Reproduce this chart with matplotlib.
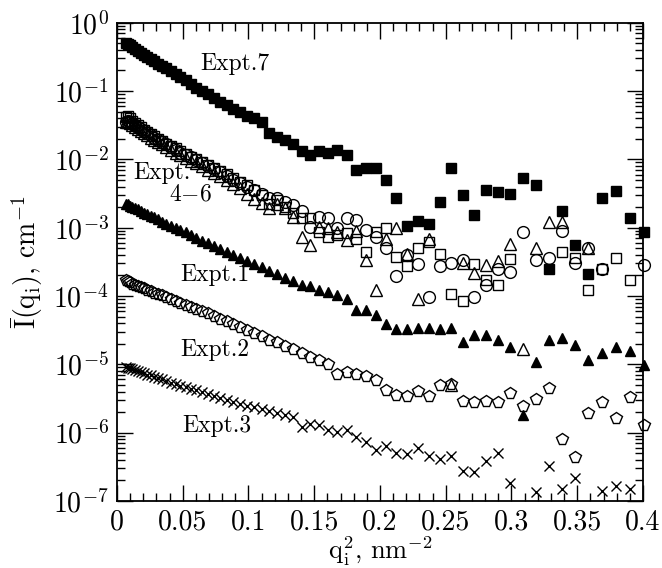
import numpy as np
import matplotlib
matplotlib.use('Agg')
import matplotlib.pyplot as plt
from matplotlib.ticker import LogLocator, MultipleLocator, NullFormatter

plt.rcParams['font.family'] = 'cmr10'
plt.rcParams['mathtext.fontset'] = 'cm'
plt.rcParams['axes.formatter.use_mathtext'] = True

nan = np.nan

# q_i^2 grid, nm^-2
q2 = [0.0067, 0.0082, 0.0099, 0.0117, 0.0136, 0.0157, 0.0179, 0.0203, 0.0228, 0.0255,
      0.0283, 0.0313, 0.0344, 0.0376, 0.0411, 0.0446, 0.0483, 0.0522, 0.0562, 0.0604,
      0.0647, 0.0691, 0.0737, 0.0785, 0.0834, 0.0884, 0.0936, 0.0990, 0.1044, 0.1101,
      0.1159, 0.1218, 0.1279, 0.1341, 0.1405, 0.1470, 0.1537, 0.1605, 0.1675, 0.1746,
      0.1819, 0.1893, 0.1969, 0.2046, 0.2125, 0.2205, 0.2286, 0.2369, 0.2454, 0.2540,
      0.2628, 0.2717, 0.2807, 0.2899, 0.2992, 0.3087, 0.3184, 0.3282, 0.3381, 0.3482,
      0.3584, 0.3688, 0.3794, 0.3900, 0.4009]

# log10 of I(q_i), cm^-1
expt7 = [-0.29, -0.31, -0.33, -0.35, -0.38, -0.41, -0.44, -0.47, -0.50, -0.53,
         -0.56, -0.60, -0.63, -0.67, -0.71, -0.75, -0.79, -0.84, -0.90, -0.95,
         -1.00, -1.05, -1.10, -1.16, -1.21, -1.26, -1.31, -1.36, -1.40, -1.45,
         -1.61, -1.67, -1.72, -1.78, -1.88, -1.94, -1.88, -1.91, -1.87, -1.94,
         -2.16, -2.13, -2.13, -2.30, -2.56, -2.97, -2.90, -2.95, -2.62, -2.13,
         -2.52, -2.82, -2.45, -2.48, -2.51, -2.28, -2.38, -3.61, -2.75, -3.25,
         -3.68, -2.56, -2.47, -2.86, -3.06]

expt4_6_sq = [-1.38, -1.36, -1.40, -1.44, -1.47, -1.50, -1.53, -1.57, -1.60, -1.63,
              -1.66, -1.70, -1.73, -1.77, -1.80, -1.84, -1.88, -1.92, -1.96, -2.00,
              -2.04, -2.08, -2.12, -2.17, -2.22, -2.27, -2.33, -2.38, -2.45, -2.52,
              -2.66, -2.60, -2.70, -2.78, -2.86, -2.86, -3.06, -3.13, -3.11, -3.08,
              -3.16, -3.35, -3.06, -3.00, -3.43, -3.56, -3.29, -3.21, -3.39, -3.97,
              -4.08, -3.53, -3.77, -3.84, -3.46, nan, nan, nan, -3.35, -3.45,
              -3.91, -3.61, -3.45, -3.77, nan]

expt4_6_ci = [-1.45, -1.44, -1.46, -1.48, -1.50, -1.53, -1.56, -1.59, -1.62, -1.65,
              -1.68, -1.72, -1.75, -1.78, -1.82, -1.86, -1.90, -1.93, -1.97, -2.01,
              -2.05, -2.09, -2.14, -2.19, -2.24, -2.30, -2.35, -2.40, -2.45, -2.50,
              -2.57, -2.57, -2.62, -2.67, -2.76, -2.99, -2.84, -2.86, -3.01, -2.86,
              -2.89, -3.04, -3.14, -3.30, -3.70, -3.40, -3.53, -4.01, -3.56, -3.52,
              -3.48, -4.01, -3.84, -3.61, -3.65, -3.07, -3.48, -3.44, -3.05, -3.52,
              -3.30, -3.61, nan, nan, -3.55]

expt4_6_tr = [-1.46, -1.45, -1.47, -1.50, -1.52, -1.55, -1.58, -1.61, -1.64, -1.68,
              -1.71, -1.74, -1.78, -1.82, -1.86, -1.90, -1.94, -1.98, -2.02, -2.06,
              -2.10, -2.15, -2.20, -2.25, -2.30, -2.36, -2.42, -2.50, -2.58, -2.64,
              -2.71, -2.66, -2.71, -2.84, -3.13, -3.25, -2.99, -3.01, -3.06, -3.18,
              -3.05, -3.47, -3.91, -3.16, -3.00, -3.38, -4.05, -3.16, nan, -5.30,
              -3.52, -3.67, -3.55, -3.49, -3.24, -4.77, -3.30, -2.92, -2.92, nan,
              -3.30, nan, nan, nan, nan]

expt1 = [-2.65, -2.66, -2.68, -2.70, -2.71, -2.73, -2.75, -2.78, -2.80, -2.83,
         -2.85, -2.88, -2.91, -2.94, -2.97, -3.00, -3.04, -3.07, -3.11, -3.15,
         -3.19, -3.23, -3.27, -3.31, -3.35, -3.40, -3.44, -3.49, -3.53, -3.58,
         -3.63, -3.68, -3.73, -3.78, -3.84, -3.86, -3.91, -3.94, -3.99, -4.05,
         -4.20, -4.20, -4.28, -4.41, -4.48, -4.48, -4.47, -4.47, -4.48, -4.47,
         -4.68, -4.57, -4.57, -4.65, -4.74, -5.74, -4.96, -4.64, -4.62, -4.72,
         -4.93, -4.83, -4.74, -4.80, -5.01]

expt2 = [-3.77, -3.78, -3.80, -3.82, -3.84, -3.86, -3.87, -3.89, -3.91, -3.93,
         -3.95, -3.97, -3.99, -4.02, -4.05, -4.07, -4.10, -4.13, -4.16, -4.19,
         -4.22, -4.25, -4.29, -4.33, -4.37, -4.41, -4.45, -4.50, -4.54, -4.58,
         -4.64, -4.68, -4.73, -4.77, -4.84, -4.89, -4.94, -5.00, -5.14, -5.11,
         -5.14, -5.17, -5.23, -5.38, -5.45, -5.47, -5.39, -5.47, -5.30, -5.29,
         -5.53, -5.55, -5.53, -5.55, -5.42, -5.61, -5.51, -5.35, -6.09, -6.36,
         -5.71, -5.55, -5.79, -5.48, -5.89]

expt3 = [-5.04, -5.05, -5.06, -5.07, -5.09, -5.10, -5.11, -5.13, -5.15, -5.16,
         -5.18, -5.20, -5.22, -5.24, -5.27, -5.29, -5.31, -5.33, -5.36, -5.38,
         -5.41, -5.44, -5.46, -5.49, -5.52, -5.55, -5.58, -5.61, -5.63, -5.66,
         -5.68, -5.71, -5.74, -5.77, -5.92, -5.87, -5.89, -5.96, -5.99, -5.96,
         -6.06, -6.13, -6.26, -6.20, -6.30, -6.31, -6.22, -6.34, -6.39, -6.34,
         -6.56, -6.57, -6.41, -6.30, -6.74, nan, -6.87, -6.49, -6.82, -6.66,
         nan, -6.85, -6.78, -6.83, nan]

x_ticks = [0, 0.05, 0.1, 0.15, 0.2, 0.25, 0.3, 0.35, 0.4]
x_tick_labels = ['0', '0.05', '0.1', '0.15', '0.2', '0.25', '0.3', '0.35', '0.4']
y_exponents = [0, -1, -2, -3, -4, -5, -6, -7]

fig = plt.figure(figsize=(6.62, 5.68), dpi=100)
ax = fig.add_axes([0.1767, 0.118, 0.7946, 0.842])
ax.set_yscale('log')


def plot_series(logs, marker, filled, ms):
    y = 10.0 ** np.array(logs)
    ax.plot(q2, y, linestyle='none', marker=marker, ms=ms, mec='black',
            mfc='black' if filled else 'none', mew=1.0, clip_on=False)


plot_series(expt3, 'x', False, 7.5)
plot_series(expt2, 'p', False, 8.5)
plot_series(expt1, '^', True, 7.5)
plot_series(expt4_6_tr, '^', False, 8)
plot_series(expt4_6_ci, 'o', False, 8.5)
plot_series(expt4_6_sq, 's', False, 7)
plot_series(expt7, 's', True, 7)

ax.set_xlim(0, 0.4)
ax.set_ylim(1e-7, 1)

ax.set_xticks(x_ticks, x_tick_labels)
ax.xaxis.set_minor_locator(MultipleLocator(0.01))
ax.set_yticks([10.0 ** e for e in y_exponents],
              [r'$10^{%d}$' % e for e in y_exponents])
ax.yaxis.set_minor_locator(LogLocator(base=10, subs=np.arange(2, 10), numticks=20))
ax.yaxis.set_minor_formatter(NullFormatter())

ax.tick_params(which='both', direction='in', top=True, right=True,
               labelsize=20, width=1.0)
ax.tick_params(which='major', length=11.5, pad=6)
ax.tick_params(which='minor', length=6)
for s in ax.spines.values():
    s.set_linewidth(1.3)

ax.set_xlabel(r'$\mathrm{q_i^2}$, nm$^{-2}$', fontsize=19, labelpad=-1)
ax.set_ylabel(r'$\bar{\mathrm{I}}(\mathrm{q_i})$, cm$^{-1}$', fontsize=20, labelpad=6)

ax.text(0.090, 10 ** -0.605, 'Expt.7', fontsize=17, ha='center', va='center')
ax.text(0.034, 10 ** -2.20, 'Expt.', fontsize=17, ha='center', va='center')
ax.text(0.0557, 10 ** -2.52, r'4$-$6', fontsize=17, ha='center', va='center')
ax.text(0.0748, 10 ** -3.69, 'Expt.1', fontsize=17, ha='center', va='center')
ax.text(0.0748, 10 ** -4.79, 'Expt.2', fontsize=17, ha='center', va='center')
ax.text(0.0756, 10 ** -5.90, 'Expt.3', fontsize=17, ha='center', va='center')

fig.savefig('out.png', dpi=100)
